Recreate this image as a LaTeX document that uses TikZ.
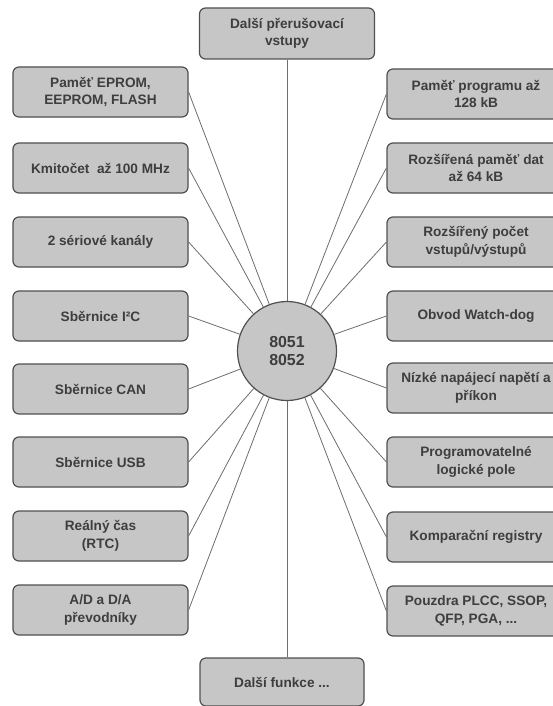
\documentclass[tikz,border=0pt]{standalone}
\usepackage{fontspec}
\setmainfont{Liberation Sans}
\definecolor{boxfill}{HTML}{C6C6C6}
\definecolor{boxdraw}{HTML}{505050}
\definecolor{txt}{HTML}{3E3E3E}
\definecolor{linkc}{HTML}{6E6E6E}
\begin{document}
\begin{tikzpicture}[x=1bp,y=-1bp,
  box/.style={draw=boxdraw, line width=1.2bp, fill=boxfill, rounded corners=6bp,
    minimum width=175bp, minimum height=50bp, align=center, text=txt, inner sep=2bp,
    font=\bfseries\fontsize{13.7}{17.5}\selectfont},
  rbox/.style={box, minimum width=178bp},
  hub/.style={circle, draw=boxdraw, line width=1.2bp, fill=boxfill, minimum size=99bp,
    align=center, text=txt, inner sep=0bp, font=\bfseries\fontsize{16}{18}\selectfont},
  link/.style={draw=linkc, line width=0.8bp}]
\clip (0,0) rectangle (553,706);
\fill[white] (0,0) rectangle (553,706);

\node[hub] (hub) at (287,351) {8051\\8052};

\node[box, minimum height=51bp] (top) at (287,33.5) {Další přerušovací\\vstupy};
\node[box, minimum width=164bp, minimum height=48bp] (bot) at (282,682) {Další funkce ...};

\node[box] (l1) at (100.5,92) {Paměť EPROM,\\EEPROM, FLASH};
\node[box] (l2) at (100.5,168) {Kmitočet\ \ až 100 MHz};
\node[box] (l3) at (100.5,242) {2 sériové kanály};
\node[box] (l4) at (100.5,316) {Sběrnice I²C};
\node[box] (l5) at (100.5,389) {Sběrnice CAN};
\node[box] (l6) at (100.5,462) {Sběrnice USB};
\node[box] (l7) at (100.5,536) {Reálný čas\\(RTC)};
\node[box] (l8) at (100.5,610) {A/D a D/A\\převodníky};

\node[rbox] (r1) at (476,94) {Paměť programu až\\128 kB};
\node[rbox] (r2) at (476,168) {Rozšířená paměť dat\\až 64 kB};
\node[rbox] (r3) at (476,242) {Rozšířený počet\\vstupů/výstupů};
\node[rbox] (r4) at (476,316) {Obvod Watch-dog};
\node[rbox] (r5) at (476,388) {Nízké napájecí napětí a\\příkon};
\node[rbox] (r6) at (476,462) {Programovatelné\\logické pole};
\node[rbox] (r7) at (476,537) {Komparační registry};
\node[rbox] (r8) at (476,611) {Pouzdra PLCC, SSOP,\\QFP, PGA, ...};

\begin{scope}[on background layer/.style={}]
\draw[link] (top.south -| hub.north) -- (hub.north);
\draw[link] (hub.south) -- (hub.south |- bot.north);
\foreach \i in {1,...,8} {
  \draw[link] (l\i.east) -- (hub);
  \draw[link] (r\i.west) -- (hub);
}
\end{scope}
\end{tikzpicture}
\end{document}
